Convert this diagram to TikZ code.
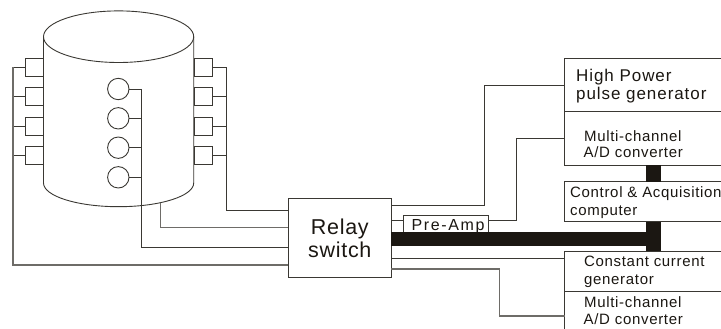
\documentclass[tikz,border=0pt]{standalone}
\usepackage{fontspec}
\setmainfont{Liberation Sans}
\newfontfamily\lsfont[LetterSpace=4.5]{Liberation Sans}
\newfontfamily\lsbigfont[LetterSpace=5.5]{Liberation Sans}
\newfontfamily\lsrelayfont[LetterSpace=3.3]{Liberation Sans}
\newfontfamily\lspreampfont[LetterSpace=10]{Liberation Sans}
\usetikzlibrary{calc}
\definecolor{ink}{HTML}{3A3833}
\definecolor{greyink}{HTML}{6E6C68}
\definecolor{barink}{HTML}{1B1712}
\tikzset{
  wire/.style={draw=ink,line width=0.9pt,line join=miter},
  greywire/.style={draw=greyink,line width=1.1pt,line join=miter},
  bar/.style={fill=barink,draw=none,inner sep=0pt,outer sep=0pt},
  boxnode/.style={draw=ink,line width=0.9pt,fill=white,inner sep=0pt,outer sep=0pt,rectangle},
  sensor/.style={boxnode,minimum width=18.5pt,minimum height=18pt},
  probe/.style={draw=ink,line width=0.9pt,fill=white,circle,inner sep=0pt,outer sep=0pt,minimum size=21.4pt},
  big/.style={font=\fontsize{21.5}{23}\selectfont\lsrelayfont,text=barink,align=center,inner sep=0pt},
  lab/.style={anchor=base west,inner sep=0pt,text=barink,font=\fontsize{15}{16}\selectfont\lsfont},
  labbig/.style={lab,font=\fontsize{17}{18}\selectfont\lsbigfont},
}
\begin{document}
\begin{tikzpicture}[x=1pt,y=-1pt]
\useasboundingbox (0,0) rectangle (721,329);
\clip (0,0) rectangle (721,329);
% cylinder
\coordinate (cylTL) at (43.5,36.7);
\coordinate (cylTR) at (193.7,36.7);
\coordinate (cylBL) at (43.5,183);
\coordinate (cylBR) at (193.7,183);
\draw[wire] (118.6,36.7) ellipse [x radius=75.1,y radius=25.8];
\draw[wire] (cylTL) -- (cylBL) arc[start angle=180,end angle=0,x radius=75.1,y radius=23.7] -- (cylTR);
% sensors
\foreach \n/\y in {1/67.2,2/96.7,3/126.2,4/155.8}{
  \node[sensor] (L\n) at (34.4,\y) {};
  \node[sensor] (R\n) at (203.4,\y) {};
}
\foreach \n/\y in {1/89,2/118.3,3/147.7,4/177.3}{
  \node[probe] (C\n) at (118.3,\y) {};
}
% main boxes
\node[boxnode,minimum width=103pt,minimum height=79pt,big] (relay) at (339.8,238.2) {Relay\\switch};
\node[boxnode,minimum width=85.4pt,minimum height=16.4pt] (preamp) at (446,223.9) {};
\node[boxnode,minimum width=158pt,minimum height=53.4pt,anchor=north west] (pulse) at (564.7,58.3) {};
\node[boxnode,minimum width=158pt,minimum height=53.6pt,anchor=north west] (adcA) at (564.7,111.7) {};
\node[boxnode,minimum width=158pt,minimum height=40pt,anchor=north west] (comp) at (564.7,181.7) {};
\node[boxnode,minimum width=158pt,minimum height=40pt,anchor=north west] (constg) at (564.7,251) {};
\node[boxnode,minimum width=158pt,minimum height=50pt,anchor=north west] (adcB) at (564.7,291) {};
% bus coordinates
\coordinate (busL) at (13,265);
\coordinate (busR) at (226,210.3);
\coordinate (busC) at (141.7,247.3);
\coordinate (busG) at (160.7,227.7);
\coordinate (cylTap) at (160.7,202.6);
\coordinate (elbowA) at (484.3,205);
\coordinate (elbowB) at (516.7,220.3);
\coordinate (elbowC) at (499.7,269);
\coordinate (relayLow) at (391.3,258);
% sensor stubs
\foreach \n in {1,2,3,4}{
  \draw[wire] (L\n.west) -- (busL |- L\n.west);
  \draw[wire] (R\n.east) -- (busR |- R\n.east);
  \draw[wire] (C\n.east) -- (busC |- C\n.east);
}
\draw[greywire] (L1.west -| busL) -- (busL) -- (relay.west |- busL);
\draw[wire] (R1.east -| busR) -- (busR) -- (relay.west |- busR);
\draw[wire] (C1.east -| busC) -- (busC) -- (relay.west |- busC);
\draw[greywire] (cylTap) -- (busG) -- (relay.west |- busG);
% relay to instruments
\draw[wire] (relay.east |- elbowA) -- (elbowA) -- (elbowA |- pulse.west) -- (pulse.west);
\draw[wire] (relay.east |- elbowB) -- (preamp.west |- elbowB);
\draw[wire] (preamp.east |- elbowB) -- (elbowB) -- (elbowB |- adcA.west) -- (adcA.west);
\draw[wire] (relayLow) -- (constg.west |- relayLow);
\draw[greywire] (relay.east |- elbowC) -- (elbowC) -- (elbowC |- adcB.west) -- (adcB.west);
% thick links
\fill[bar] ($(relay.east |- 0,232.3)$) rectangle (661,245.7);
\fill[bar] ($(comp.south -| 646,0)$) rectangle ($(constg.north -| 661,0)$);
\fill[bar] ($(adcA.south -| 646,0)$) rectangle ($(comp.north -| 661,0)$);
% labels
\node[lab,font=\fontsize{16}{17}\selectfont\lspreampfont] (tPre) at (411.5,230) {Pre-Amp};
\node[labbig] (tHigh) at (576,81.7) {High Power};
\node[labbig] (tPulse) at (576,99.3) {pulse generator};
\node[lab] (tMulA) at (584,141) {Multi-channel};
\node[lab] (tAdA) at (583.5,157.7) {A/D converter};
\node[lab] (tCtl) at (570,197.7) {Control \& Acquisition};
\node[lab] (tCmp) at (570,215) {computer};
\node[lab] (tCon) at (584,266.7) {Constant current};
\node[lab] (tGen) at (584,284.3) {generator};
\node[lab] (tMulB) at (584,307.3) {Multi-channel};
\node[lab] (tAdB) at (583.5,324.3) {A/D converter};
\end{tikzpicture}
\end{document}
